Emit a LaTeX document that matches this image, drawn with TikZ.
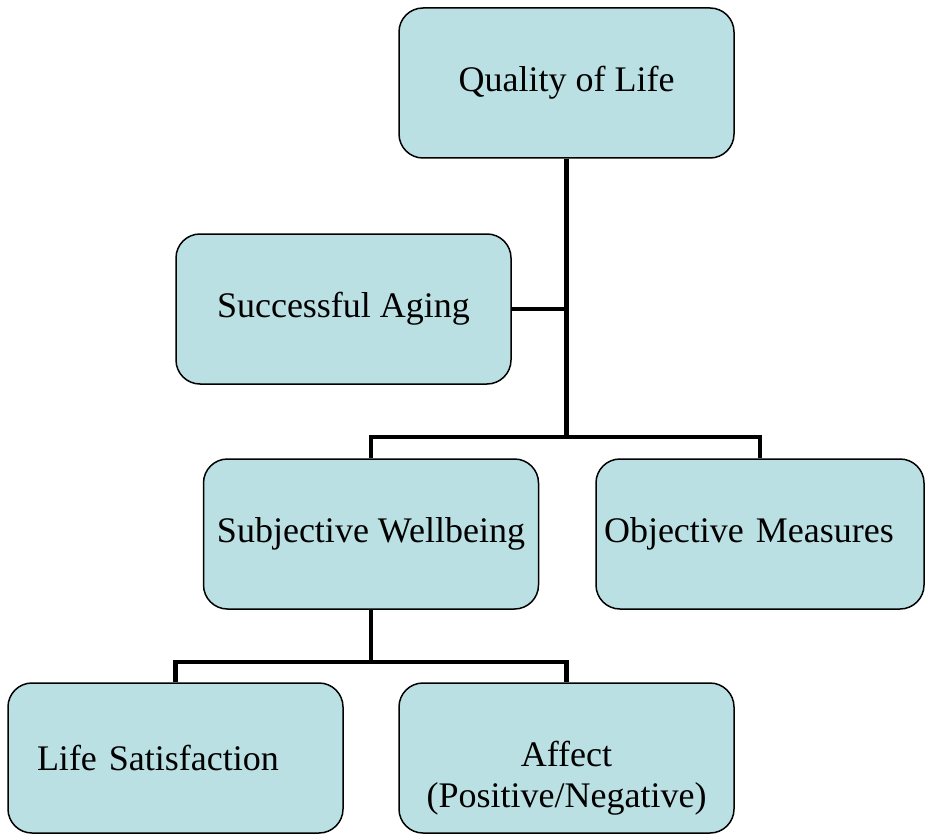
\documentclass[tikz,border=0pt]{standalone}
\usepackage{fontspec}
\setmainfont{Liberation Serif}
\definecolor{boxfill}{HTML}{BBE0E3}
\begin{document}
\begin{tikzpicture}[x=1pt, y=-1pt,
		box/.style={draw=black, line width=1.5pt, fill=boxfill, rounded corners=24pt,
			minimum width=335pt, minimum height=150pt, inner sep=0pt,
			font=\fontsize{36}{41}\selectfont, align=center},
		link/.style={line width=4.5pt}]
			\useasboundingbox (0,0) rectangle (925,834);
			% boxes
			\node[box] (qol) at (566.5,83) {Quality of Life};
			\node[box] (aging) at (343.5,309) {Successful Aging};
			\node[box] (swb) at (371,534) {Subjective Wellbeing};
			\node[box, minimum width=328pt, text width=312pt, inner xsep=8pt, align=left] (obj) at (760,534) {Objective Measures};
			\node[box, text width=277pt, inner xsep=29pt, align=left] (life) at (175.5,758) {Life Satisfaction};
			\node[box] (affect) at (566.5,758) {\rule{0pt}{66pt}Affect\\(Positive/Negative)};
			
			% connectors
			\coordinate (hub) at (566.5,437);
			\coordinate (split) at (371,662);
			\draw[link] (qol.south) -- (hub);
			\draw[link] (aging.east) -- (aging.east -| qol.south);
			\draw[link] (swb.north) |- (hub) -| (obj.north);
			\draw[link] (swb.south) -- (split);
			\draw[link] (life.north) |- (split) -| (affect.north);
		\end{tikzpicture}
\end{document}
